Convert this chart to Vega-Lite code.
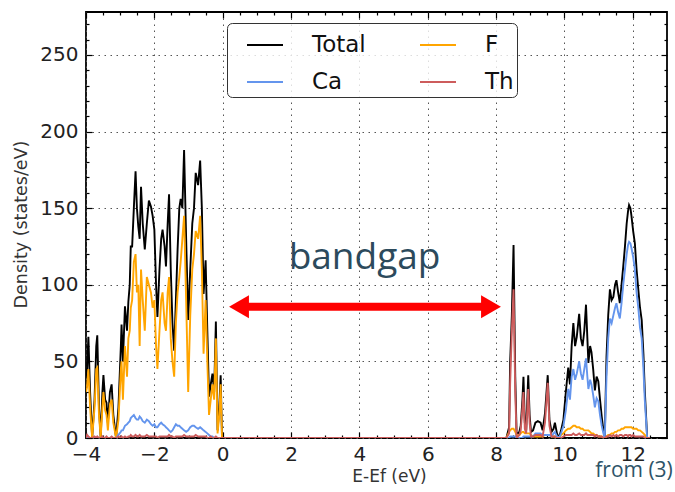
{
  "$schema": "https://vega.github.io/schema/vega-lite/v6.json",
  "width": 581,
  "height": 426,
  "autosize": {"type": "none"},
  "padding": {"left": 86, "top": 12, "right": 8, "bottom": 54},
  "background": "white",
  "title": {"text": "Electronic Density of States", "font": "DejaVu Sans", "fontSize": 17, "fontWeight": "normal", "color": "#444", "baseline": "alphabetic", "offset": 9},
  "config": {
    "view": {"stroke": "#000", "strokeWidth": 1.8},
    "axis": {"domain": false, "tickColor": "#000", "tickWidth": 1.2, "labelFont": "DejaVu Sans", "titleFont": "DejaVu Sans", "titleFontWeight": "normal"}
  },
  "layer": [
    {
      "data": {"values": [
        {"e": -4.00, "Total": 40, "F": 30, "Ca": 0, "Th": 0},
        {"e": -3.97, "Total": 45, "F": 33, "Ca": 0, "Th": 2},
        {"e": -3.93, "Total": 66, "F": 45, "Ca": 0, "Th": 1},
        {"e": -3.88, "Total": 30, "F": 20, "Ca": 0, "Th": 0},
        {"e": -3.82, "Total": 0, "F": 0, "Ca": 0, "Th": 0},
        {"e": -3.75, "Total": 25, "F": 20, "Ca": 0, "Th": 1},
        {"e": -3.70, "Total": 60, "F": 45, "Ca": 0, "Th": 0},
        {"e": -3.67, "Total": 67, "F": 46, "Ca": 0, "Th": 1},
        {"e": -3.62, "Total": 20, "F": 15, "Ca": 0, "Th": 0},
        {"e": -3.57, "Total": 0, "F": 0, "Ca": 0, "Th": 0},
        {"e": -3.52, "Total": 30, "F": 20, "Ca": 0, "Th": 1},
        {"e": -3.49, "Total": 41, "F": 30, "Ca": 0, "Th": 0},
        {"e": -3.44, "Total": 25, "F": 18, "Ca": 0, "Th": 0},
        {"e": -3.40, "Total": 23, "F": 15, "Ca": 0, "Th": 1},
        {"e": -3.36, "Total": 10, "F": 5, "Ca": 0, "Th": 0},
        {"e": -3.30, "Total": 30, "F": 22, "Ca": 0, "Th": 0},
        {"e": -3.25, "Total": 35, "F": 25, "Ca": 0, "Th": 1},
        {"e": -3.20, "Total": 15, "F": 10, "Ca": 0, "Th": 0},
        {"e": -3.12, "Total": 0, "F": 0, "Ca": 0, "Th": 0},
        {"e": -3.05, "Total": 20, "F": 12, "Ca": 2, "Th": 1},
        {"e": -2.98, "Total": 60, "F": 45, "Ca": 4, "Th": 0},
        {"e": -2.96, "Total": 74, "F": 50, "Ca": 5, "Th": 1},
        {"e": -2.92, "Total": 50, "F": 25, "Ca": 5, "Th": 0},
        {"e": -2.86, "Total": 86, "F": 60, "Ca": 8, "Th": 1},
        {"e": -2.80, "Total": 70, "F": 40, "Ca": 9, "Th": 0},
        {"e": -2.76, "Total": 89, "F": 65, "Ca": 10, "Th": 1},
        {"e": -2.72, "Total": 100, "F": 70, "Ca": 11, "Th": 1},
        {"e": -2.69, "Total": 125, "F": 85, "Ca": 13, "Th": 2},
        {"e": -2.65, "Total": 125, "F": 90, "Ca": 14, "Th": 1},
        {"e": -2.60, "Total": 150, "F": 115, "Ca": 15, "Th": 1},
        {"e": -2.55, "Total": 174, "F": 120, "Ca": 13, "Th": 2},
        {"e": -2.51, "Total": 150, "F": 95, "Ca": 12, "Th": 1},
        {"e": -2.47, "Total": 138, "F": 100, "Ca": 12, "Th": 1},
        {"e": -2.43, "Total": 130, "F": 60, "Ca": 14, "Th": 2},
        {"e": -2.39, "Total": 164, "F": 110, "Ca": 13, "Th": 1},
        {"e": -2.34, "Total": 140, "F": 90, "Ca": 11, "Th": 1},
        {"e": -2.28, "Total": 123, "F": 70, "Ca": 10, "Th": 1},
        {"e": -2.22, "Total": 140, "F": 105, "Ca": 12, "Th": 2},
        {"e": -2.16, "Total": 155, "F": 100, "Ca": 11, "Th": 1},
        {"e": -2.10, "Total": 151, "F": 95, "Ca": 9, "Th": 1},
        {"e": -2.05, "Total": 145, "F": 85, "Ca": 8, "Th": 1},
        {"e": -2.00, "Total": 136, "F": 90, "Ca": 9, "Th": 1},
        {"e": -1.95, "Total": 100, "F": 60, "Ca": 7, "Th": 1},
        {"e": -1.91, "Total": 79, "F": 45, "Ca": 7, "Th": 0},
        {"e": -1.85, "Total": 110, "F": 70, "Ca": 9, "Th": 1},
        {"e": -1.80, "Total": 130, "F": 90, "Ca": 10, "Th": 1},
        {"e": -1.76, "Total": 136, "F": 95, "Ca": 9, "Th": 1},
        {"e": -1.70, "Total": 125, "F": 75, "Ca": 8, "Th": 1},
        {"e": -1.66, "Total": 112, "F": 70, "Ca": 7, "Th": 1},
        {"e": -1.61, "Total": 140, "F": 95, "Ca": 6, "Th": 1},
        {"e": -1.57, "Total": 159, "F": 105, "Ca": 5, "Th": 2},
        {"e": -1.52, "Total": 110, "F": 65, "Ca": 4, "Th": 1},
        {"e": -1.47, "Total": 75, "F": 50, "Ca": 5, "Th": 1},
        {"e": -1.42, "Total": 57, "F": 40, "Ca": 7, "Th": 0},
        {"e": -1.37, "Total": 90, "F": 75, "Ca": 9, "Th": 1},
        {"e": -1.32, "Total": 123, "F": 95, "Ca": 8, "Th": 1},
        {"e": -1.27, "Total": 150, "F": 105, "Ca": 8, "Th": 1},
        {"e": -1.23, "Total": 156, "F": 115, "Ca": 7, "Th": 1},
        {"e": -1.18, "Total": 150, "F": 130, "Ca": 6, "Th": 1},
        {"e": -1.13, "Total": 188, "F": 145, "Ca": 5, "Th": 2},
        {"e": -1.07, "Total": 130, "F": 90, "Ca": 4, "Th": 1},
        {"e": -1.01, "Total": 77, "F": 30, "Ca": 5, "Th": 1},
        {"e": -0.95, "Total": 110, "F": 80, "Ca": 7, "Th": 1},
        {"e": -0.89, "Total": 140, "F": 110, "Ca": 8, "Th": 1},
        {"e": -0.84, "Total": 150, "F": 120, "Ca": 8, "Th": 1},
        {"e": -0.79, "Total": 173, "F": 135, "Ca": 7, "Th": 2},
        {"e": -0.72, "Total": 165, "F": 130, "Ca": 6, "Th": 1},
        {"e": -0.66, "Total": 181, "F": 145, "Ca": 7, "Th": 1},
        {"e": -0.61, "Total": 150, "F": 110, "Ca": 6, "Th": 1},
        {"e": -0.56, "Total": 94, "F": 55, "Ca": 5, "Th": 1},
        {"e": -0.50, "Total": 116, "F": 90, "Ca": 4, "Th": 1},
        {"e": -0.45, "Total": 70, "F": 50, "Ca": 3, "Th": 0},
        {"e": -0.40, "Total": 27, "F": 15, "Ca": 2, "Th": 0},
        {"e": -0.35, "Total": 35, "F": 25, "Ca": 1, "Th": 1},
        {"e": -0.30, "Total": 42, "F": 35, "Ca": 1, "Th": 0},
        {"e": -0.25, "Total": 30, "F": 25, "Ca": 0, "Th": 0},
        {"e": -0.20, "Total": 76, "F": 65, "Ca": 0, "Th": 1},
        {"e": -0.15, "Total": 5, "F": 3, "Ca": 0, "Th": 0},
        {"e": -0.10, "Total": 20, "F": 15, "Ca": 0, "Th": 0},
        {"e": -0.06, "Total": 41, "F": 35, "Ca": 0, "Th": 0},
        {"e": -0.02, "Total": 0, "F": 0, "Ca": 0, "Th": 0},
        {"e": 8.30, "Total": 0, "F": 0, "Ca": 0, "Th": 0},
        {"e": 8.38, "Total": 7, "F": 4, "Ca": 0, "Th": 3},
        {"e": 8.41, "Total": 49, "F": 5, "Ca": 1, "Th": 35},
        {"e": 8.46, "Total": 80, "F": 6, "Ca": 1, "Th": 70},
        {"e": 8.51, "Total": 126, "F": 6, "Ca": 1, "Th": 97},
        {"e": 8.56, "Total": 40, "F": 4, "Ca": 1, "Th": 30},
        {"e": 8.60, "Total": 2, "F": 2, "Ca": 0, "Th": 0},
        {"e": 8.68, "Total": 4, "F": 2, "Ca": 0, "Th": 2},
        {"e": 8.72, "Total": 8, "F": 3, "Ca": 0, "Th": 5},
        {"e": 8.77, "Total": 25, "F": 4, "Ca": 0, "Th": 20},
        {"e": 8.80, "Total": 40, "F": 4, "Ca": 1, "Th": 30},
        {"e": 8.84, "Total": 10, "F": 3, "Ca": 1, "Th": 6},
        {"e": 8.88, "Total": 5, "F": 3, "Ca": 1, "Th": 3},
        {"e": 8.94, "Total": 41, "F": 3, "Ca": 1, "Th": 32},
        {"e": 8.98, "Total": 15, "F": 3, "Ca": 1, "Th": 10},
        {"e": 9.02, "Total": 4, "F": 2, "Ca": 1, "Th": 1},
        {"e": 9.08, "Total": 5, "F": 1, "Ca": 1, "Th": 1},
        {"e": 9.15, "Total": 10, "F": 1, "Ca": 3, "Th": 2},
        {"e": 9.22, "Total": 11, "F": 1, "Ca": 3, "Th": 2},
        {"e": 9.30, "Total": 10, "F": 1, "Ca": 3, "Th": 2},
        {"e": 9.36, "Total": 5, "F": 1, "Ca": 2, "Th": 1},
        {"e": 9.43, "Total": 16, "F": 2, "Ca": 2, "Th": 10},
        {"e": 9.51, "Total": 41, "F": 2, "Ca": 2, "Th": 36},
        {"e": 9.56, "Total": 12, "F": 2, "Ca": 2, "Th": 8},
        {"e": 9.62, "Total": 4, "F": 1, "Ca": 1, "Th": 1},
        {"e": 9.68, "Total": 6, "F": 1, "Ca": 3, "Th": 1},
        {"e": 9.72, "Total": 10, "F": 1, "Ca": 4, "Th": 1},
        {"e": 9.78, "Total": 3, "F": 1, "Ca": 1, "Th": 0},
        {"e": 9.84, "Total": 0, "F": 0, "Ca": 0, "Th": 0},
        {"e": 9.90, "Total": 5, "F": 2, "Ca": 3, "Th": 0},
        {"e": 9.97, "Total": 12, "F": 3, "Ca": 8, "Th": 1},
        {"e": 10.04, "Total": 30, "F": 5, "Ca": 18, "Th": 2},
        {"e": 10.11, "Total": 46, "F": 6, "Ca": 32, "Th": 2},
        {"e": 10.16, "Total": 35, "F": 6, "Ca": 25, "Th": 2},
        {"e": 10.21, "Total": 60, "F": 7, "Ca": 40, "Th": 2},
        {"e": 10.26, "Total": 75, "F": 8, "Ca": 45, "Th": 3},
        {"e": 10.31, "Total": 60, "F": 8, "Ca": 38, "Th": 2},
        {"e": 10.36, "Total": 66, "F": 7, "Ca": 42, "Th": 2},
        {"e": 10.43, "Total": 81, "F": 7, "Ca": 50, "Th": 3},
        {"e": 10.48, "Total": 65, "F": 6, "Ca": 42, "Th": 2},
        {"e": 10.53, "Total": 60, "F": 6, "Ca": 38, "Th": 2},
        {"e": 10.58, "Total": 70, "F": 5, "Ca": 45, "Th": 2},
        {"e": 10.63, "Total": 87, "F": 5, "Ca": 52, "Th": 3},
        {"e": 10.67, "Total": 65, "F": 5, "Ca": 40, "Th": 2},
        {"e": 10.70, "Total": 49, "F": 5, "Ca": 32, "Th": 2},
        {"e": 10.75, "Total": 60, "F": 4, "Ca": 38, "Th": 2},
        {"e": 10.79, "Total": 56, "F": 3, "Ca": 35, "Th": 2},
        {"e": 10.84, "Total": 45, "F": 3, "Ca": 28, "Th": 2},
        {"e": 10.89, "Total": 31, "F": 2, "Ca": 20, "Th": 1},
        {"e": 10.94, "Total": 40, "F": 2, "Ca": 26, "Th": 2},
        {"e": 10.99, "Total": 37, "F": 1, "Ca": 24, "Th": 1},
        {"e": 11.04, "Total": 25, "F": 1, "Ca": 15, "Th": 1},
        {"e": 11.09, "Total": 14, "F": 1, "Ca": 8, "Th": 1},
        {"e": 11.14, "Total": 5, "F": 0, "Ca": 3, "Th": 0},
        {"e": 11.18, "Total": 1, "F": 0, "Ca": 0, "Th": 0},
        {"e": 11.23, "Total": 53, "F": 1, "Ca": 40, "Th": 1},
        {"e": 11.28, "Total": 80, "F": 2, "Ca": 65, "Th": 1},
        {"e": 11.33, "Total": 97, "F": 2, "Ca": 78, "Th": 2},
        {"e": 11.38, "Total": 90, "F": 3, "Ca": 75, "Th": 1},
        {"e": 11.43, "Total": 92, "F": 3, "Ca": 80, "Th": 2},
        {"e": 11.48, "Total": 100, "F": 4, "Ca": 85, "Th": 1},
        {"e": 11.52, "Total": 103, "F": 4, "Ca": 88, "Th": 2},
        {"e": 11.57, "Total": 95, "F": 5, "Ca": 82, "Th": 1},
        {"e": 11.62, "Total": 88, "F": 5, "Ca": 78, "Th": 2},
        {"e": 11.67, "Total": 100, "F": 6, "Ca": 88, "Th": 2},
        {"e": 11.72, "Total": 112, "F": 6, "Ca": 100, "Th": 1},
        {"e": 11.77, "Total": 125, "F": 7, "Ca": 110, "Th": 2},
        {"e": 11.82, "Total": 140, "F": 7, "Ca": 120, "Th": 2},
        {"e": 11.86, "Total": 148, "F": 7, "Ca": 126, "Th": 1},
        {"e": 11.89, "Total": 152, "F": 7, "Ca": 128, "Th": 2},
        {"e": 11.93, "Total": 150, "F": 7, "Ca": 127, "Th": 2},
        {"e": 11.96, "Total": 145, "F": 7, "Ca": 124, "Th": 1},
        {"e": 12.01, "Total": 135, "F": 6, "Ca": 118, "Th": 2},
        {"e": 12.06, "Total": 127, "F": 6, "Ca": 110, "Th": 1},
        {"e": 12.11, "Total": 110, "F": 6, "Ca": 95, "Th": 1},
        {"e": 12.16, "Total": 97, "F": 5, "Ca": 85, "Th": 1},
        {"e": 12.21, "Total": 85, "F": 5, "Ca": 72, "Th": 1},
        {"e": 12.26, "Total": 77, "F": 4, "Ca": 65, "Th": 1},
        {"e": 12.31, "Total": 55, "F": 3, "Ca": 45, "Th": 1},
        {"e": 12.35, "Total": 31, "F": 2, "Ca": 25, "Th": 0},
        {"e": 12.42, "Total": 0, "F": 0, "Ca": 0, "Th": 0},
        {"e": 12.50, "Total": 0, "F": 0, "Ca": 0, "Th": 0}
      ]},
      "transform": [{"fold": ["Total", "F", "Ca", "Th"], "as": ["series", "density"]}],
      "mark": {"type": "line", "strokeWidth": 1.9, "clip": true},
      "encoding": {
        "x": {"field": "e", "type": "quantitative",
          "scale": {"domain": [-4, 13], "nice": false, "zero": false},
          "axis": {"orient": "bottom", "values": [-4, -2, 0, 2, 4, 6, 8, 10, 12], "grid": true, "gridColor": "#555", "gridDash": [1.5, 4.5], "gridWidth": 1, "tickSize": -6, "labelFontSize": 20, "labelColor": "#222", "labelPadding": 12, "labelFlush": false, "title": "E-Ef (eV)", "titleFontSize": 17, "titleColor": "#333", "titleX": 303, "titleY": 38, "titleBaseline": "middle", "titleAlign": "center"}},
        "y": {"field": "density", "type": "quantitative",
          "scale": {"domain": [0, 278], "nice": false},
          "axis": {"orient": "left", "values": [0, 50, 100, 150, 200, 250], "grid": true, "gridColor": "#555", "gridDash": [1.5, 4.5], "gridWidth": 1, "tickSize": -6, "labelFontSize": 20, "labelColor": "#222", "labelPadding": 14, "title": "Density (states/eV)", "titleFontSize": 17.5, "titleColor": "#333", "titleX": -65, "titleY": 212, "titleAngle": -90, "titleBaseline": "middle", "titleAlign": "center"}},
        "color": {"field": "series", "type": "nominal",
          "scale": {"domain": ["Total", "Ca", "F", "Th"], "range": ["#000000", "#6495ED", "#FFA500", "#CD5C5C"]},
          "legend": {"orient": "none", "legendX": 141, "legendY": 11, "columns": 2, "title": null, "symbolType": "stroke", "symbolSize": 1296, "symbolStrokeWidth": 2, "symbolOffset": 16, "labelFont": "DejaVu Sans", "labelFontSize": 23, "labelColor": "#111", "labelOffset": 28, "columnPadding": 37, "rowPadding": 6, "padding": 3, "fillColor": "rgba(255,255,255,0.8)", "strokeColor": "#333", "cornerRadius": 5, "labelExpr": "datum.label + '  '"}}
      }
    },
    {
      "data": {"values": [{}]},
      "mark": {"type": "rule", "color": "#ff0000", "strokeWidth": 8},
      "encoding": {
        "x": {"datum": 0.6, "type": "quantitative", "axis": {"orient": "top", "values": [-4, -2, 0, 2, 4, 6, 8, 10, 12], "labels": false, "grid": false, "tickSize": -6, "title": null}},
        "x2": {"datum": 7.75},
        "y": {"datum": 85.7, "type": "quantitative", "axis": {"orient": "right", "values": [0, 50, 100, 150, 200, 250], "labels": false, "grid": false, "tickSize": -6, "title": null}}
      }
    },
    {
      "data": {"values": [{}]},
      "mark": {"type": "point", "shape": "triangle-left", "filled": true, "color": "#ff0000", "opacity": 1, "size": 529},
      "encoding": {
        "x": {"datum": 0.477, "type": "quantitative", "axis": {"orient": "bottom", "values": [-3.5, -3, -2.5, -1.5, -1, -0.5, 0.5, 1, 1.5, 2.5, 3, 3.5, 4.5, 5, 5.5, 6.5, 7, 7.5, 8.5, 9, 9.5, 10.5, 11, 11.5, 12.5], "labels": false, "grid": false, "tickSize": -3, "title": null}},
        "y": {"datum": 85.7, "type": "quantitative", "axis": {"orient": "left", "values": [10, 20, 30, 40, 60, 70, 80, 90, 110, 120, 130, 140, 160, 170, 180, 190, 210, 220, 230, 240, 260, 270], "labels": false, "grid": false, "tickSize": -3, "title": null}}
      }
    },
    {
      "data": {"values": [{}]},
      "mark": {"type": "point", "shape": "triangle-right", "filled": true, "color": "#ff0000", "opacity": 1, "size": 529},
      "encoding": {
        "x": {"datum": 7.85, "type": "quantitative", "axis": {"orient": "top", "values": [-3.5, -3, -2.5, -1.5, -1, -0.5, 0.5, 1, 1.5, 2.5, 3, 3.5, 4.5, 5, 5.5, 6.5, 7, 7.5, 8.5, 9, 9.5, 10.5, 11, 11.5, 12.5], "labels": false, "grid": false, "tickSize": -3, "title": null}},
        "y": {"datum": 85.7, "type": "quantitative", "axis": {"orient": "right", "values": [10, 20, 30, 40, 60, 70, 80, 90, 110, 120, 130, 140, 160, 170, 180, 190, 210, 220, 230, 240, 260, 270], "labels": false, "grid": false, "tickSize": -3, "title": null}}
      }
    },
    {
      "data": {"values": [{"label": "bandgap"}]},
      "mark": {"type": "text", "font": "Open Sans", "fontSize": 37, "color": "#2c4a5c", "align": "center", "baseline": "alphabetic"},
      "encoding": {
        "x": {"datum": 4.15, "type": "quantitative", "axis": null},
        "y": {"datum": 110, "type": "quantitative", "axis": null},
        "text": {"field": "label"}
      }
    },
    {
      "data": {"values": [{"label": "from (3)"}]},
      "mark": {"type": "text", "font": "Open Sans", "fontSize": 21, "color": "#2e5468", "align": "right", "baseline": "alphabetic", "clip": false},
      "encoding": {
        "x": {"datum": 13.17, "type": "quantitative", "axis": null},
        "y": {"datum": -25.5, "type": "quantitative", "axis": null},
        "text": {"field": "label"}
      }
    }
  ],
  "resolve": {"axis": {"x": "independent", "y": "independent"}}
}
